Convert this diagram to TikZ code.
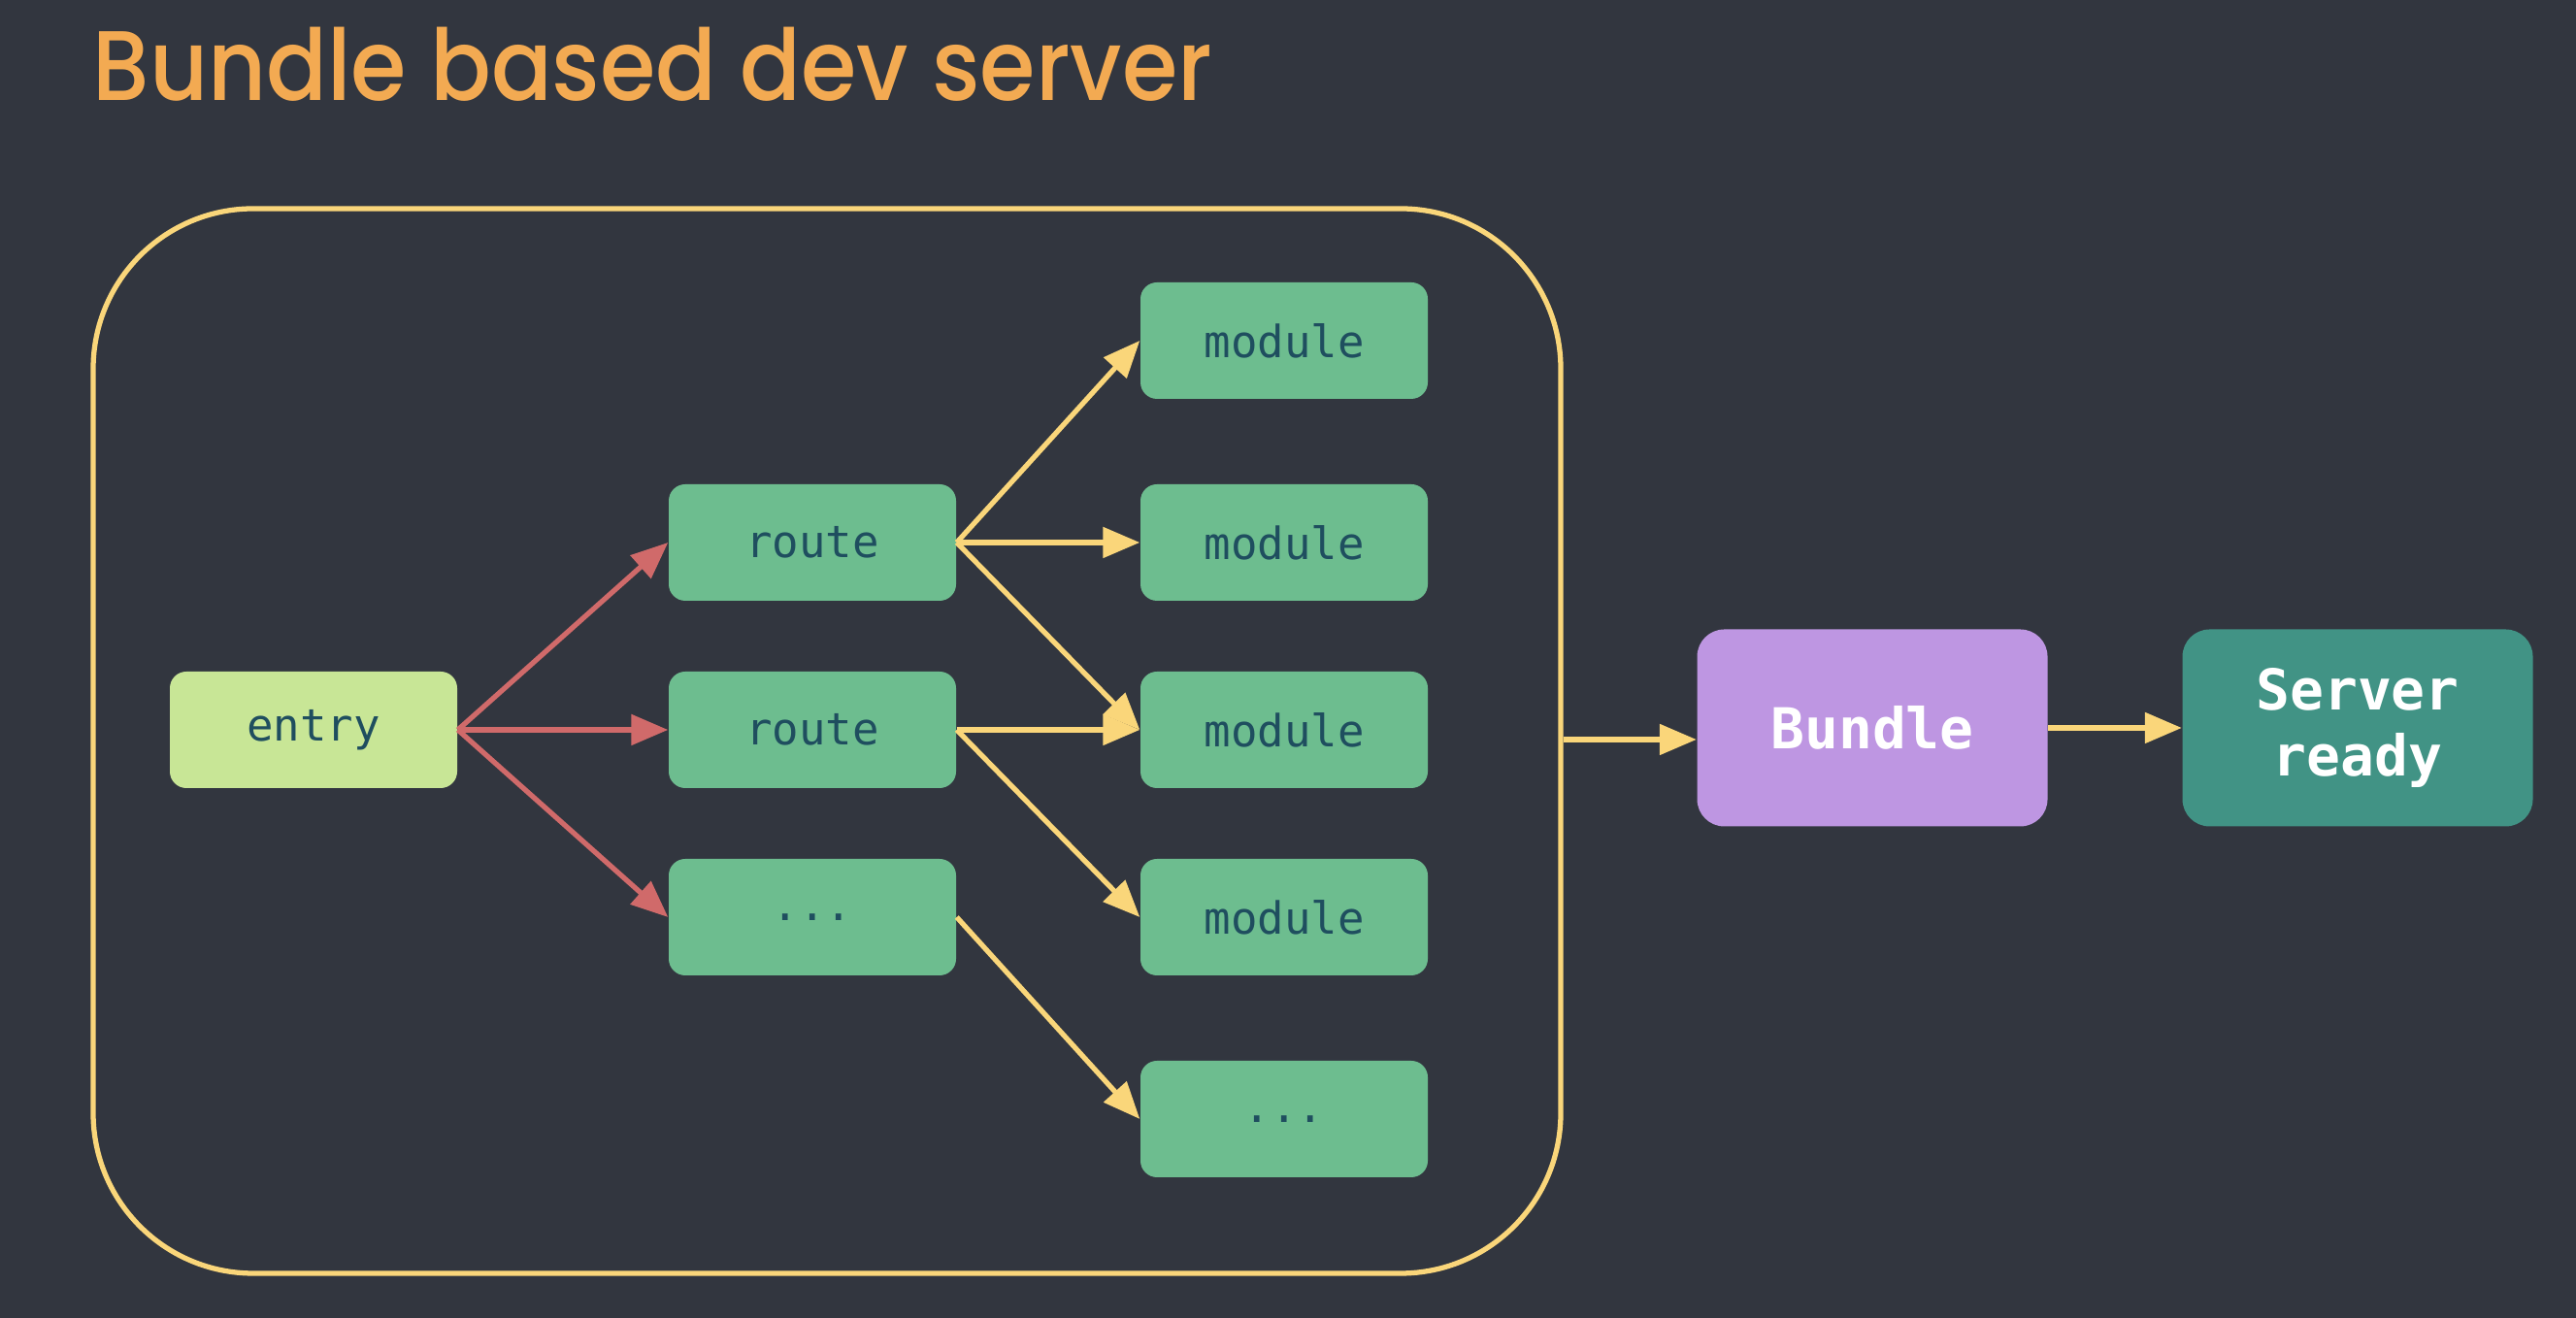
\documentclass[tikz,border=0pt]{standalone}
\usepackage{fontspec}
\usetikzlibrary{arrows.meta}
\newfontfamily\titlefont{Poppins}[UprightFont={* Medium}]
\newfontfamily\boxfont{DejaVu Sans Mono}
\definecolor{bg}{RGB}{50,54,63}
\definecolor{titleor}{RGB}{243,170,82}
\definecolor{frameyel}{RGB}{250,214,122}
\definecolor{redarr}{RGB}{208,106,106}
\definecolor{entryfill}{RGB}{200,230,150}
\definecolor{modfill}{RGB}{109,189,143}
\definecolor{boxtext}{RGB}{31,78,95}
\definecolor{bundlefill}{RGB}{190,150,226}
\definecolor{readyfill}{RGB}{65,147,133}

\tikzset{
  modbox/.style={rounded corners=0.17cm, fill=modfill, minimum width=2.96cm, minimum height=1.20cm,
    font=\boxfont\fontsize{13}{15}\selectfont, text=boxtext},
  bigbox/.style={rounded corners=0.28cm, minimum width=3.61cm, minimum height=2.03cm, align=center,
    font=\boxfont\bfseries\fontsize{16.5}{19}\selectfont, text=white},
  yarr/.style={draw=frameyel, line width=1.5pt, -{Triangle[length=0.38cm,width=0.31cm]}},
  rarr/.style={draw=redarr, line width=1.5pt, -{Triangle[length=0.38cm,width=0.31cm]}}
}

\begin{document}
\begin{tikzpicture}
            \fill[bg] (0,0) rectangle (26.54,13.58);
            \node[anchor=base west, inner sep=0pt, text=titleor, xscale=0.91, font=\titlefont\fontsize{29}{33}\selectfont] (title) at (0.95,12.54) {Bundle based dev server};
            % dev server frame
            \node[draw=frameyel, line width=1.5pt, rounded corners=1.65cm, minimum width=15.12cm, minimum height=10.97cm] (frame) at (8.52,5.945) {};
            \node[modbox, fill=entryfill] (entry) at (3.23,6.06) {entry};
            \node[modbox] (routeA) at (8.37,7.99) {route};
            \node[modbox] (routeB) at (8.37,6.06) {route};
            \node[modbox] (routeC) at (8.37,4.13) {...};
            \node[modbox] (modA) at (13.23,10.07) {module};
            \node[modbox] (modB) at (13.23,7.99) {module};
            \node[modbox] (modC) at (13.23,6.06) {module};
            \node[modbox] (modD) at (13.23,4.13) {module};
            \node[modbox] (modE) at (13.23,2.05) {...};
            \node[bigbox, fill=bundlefill] (bundle) at (19.29,6.08) {Bundle};
            \node[bigbox, fill=readyfill] (ready) at (24.29,6.08) {Server\\[0.02cm]ready};
            % imports
            \foreach \r in {routeA,routeB,routeC}
                \draw[rarr] (entry.east) -- (\r.west);
            \foreach \m in {modA,modB,modC}
                \draw[yarr] (routeA.east) -- (\m.west);
            \foreach \m in {modC,modD}
                \draw[yarr] (routeB.east) -- (\m.west);
            \draw[yarr] (routeC.east) -- (modE.west);
            % build steps
            \coordinate (feed) at ([yshift=-0.12cm]bundle.west);
            \draw[yarr] (frame.east |- feed) -- (feed);
            \draw[yarr] (bundle.east) -- (ready.west);
        \end{tikzpicture}
\end{document}
